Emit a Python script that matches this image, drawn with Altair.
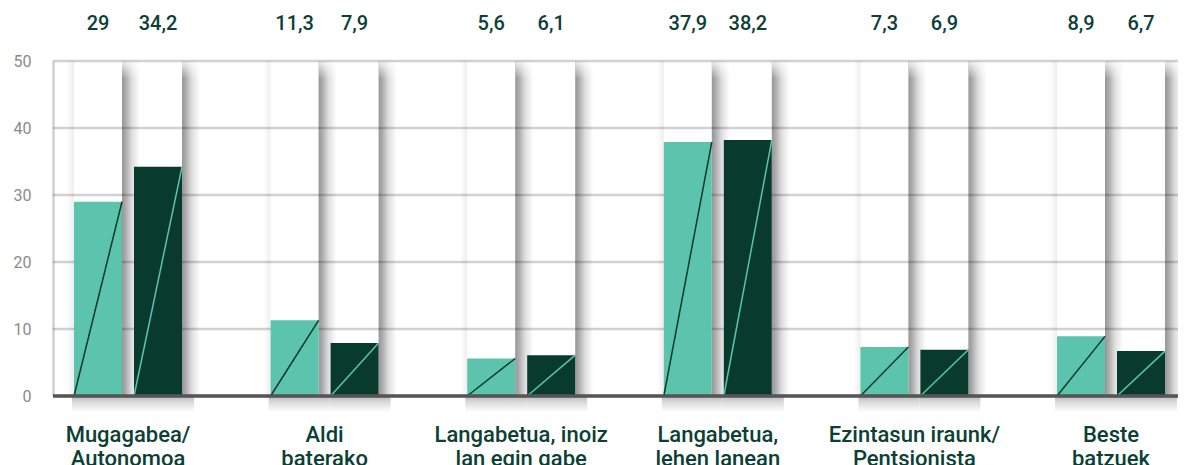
import altair as alt
import pandas as pd

# ---- data ----
categories = [
    ["Mugagabea/", "Autonomoa"],
    ["Aldi", "baterako"],
    ["Langabetua, inoiz", "lan egin gabe"],
    ["Langabetua,", "lehen lanean"],
    ["Ezintasun iraunk/", "Pentsionista"],
    ["Beste", "batzuek"],
]
series_a = [29, 11.3, 5.6, 37.9, 7.3, 8.9]
series_b = [34.2, 7.9, 6.1, 38.2, 6.9, 6.7]
y_ticks = [0, 10, 20, 30, 40, 50]
grid_values = [10, 20, 30, 40, 50]

# ---- style / layout ----
LIGHT = "#5cc4ac"
DARK = "#083a2e"
TEXT = "#0c4034"
FONT = "Roboto"
W, H = 1125, 335
PX = 196.6          # pixels per group
FIRST = 75.0        # first group centre from plot left (px)
X_DOMAIN = [-FIRST / PX, (W - FIRST) / PX]


def u(px):
    return px / PX


def fmt(v):
    return f"{v:g}".replace(".", ",")


rows = []
for i, cat in enumerate(categories):
    for s, vals, a, b, fill, line in (("A", series_a, -54, -6, LIGHT, DARK),
                                      ("B", series_b, 6, 54, DARK, LIGHT)):
        v = vals[i]
        rows.append(dict(
            g=i, series=s, value=v, zero=0, top=50, label=fmt(v), fill=fill, line=line,
            x0=i + u(a), x1=i + u(b), xm=i + u((a + b) / 2),
            sx1=i + u(b + 18),
            bx0=i + (u(a - 2) if s == "A" else u(5)),
            bx1=i + (u(5) if s == "A" else u(b + 12)),
            lx0=i + u(a - 7), lx1=i + u(a),
        ))
bars = pd.DataFrame(rows)

cats = pd.DataFrame({"g": list(range(len(categories))), "name": categories})
grid = pd.DataFrame({"v": grid_values})

xs = alt.Scale(domain=X_DOMAIN, nice=False, zero=False)
ys = alt.Scale(domain=[0, 50], nice=False, zero=False)
yaxis = alt.Axis(values=y_ticks, title=None, grid=False, ticks=False,
                 labelColor="#8a8a8a", labelFontSize=16, labelFont=FONT,
                 labelPadding=22, domainColor="#d0d0d0", domainWidth=2.5)


def X(f):
    return alt.X(f"{f}:Q", scale=xs, axis=None)


def Y(f):
    return alt.Y(f"{f}:Q", scale=ys, axis=yaxis)


base = alt.Chart(bars)

left_shadow = base.transform_filter("datum.series == 'A'").mark_rect(
    fill=alt.Gradient(gradient="linear", x1=0, x2=1, y1=0, y2=0,
                      stops=[alt.GradientStop(offset=0, color="#ffffff"),
                             alt.GradientStop(offset=1, color="#eeeeee")])
).encode(x=X("lx0"), x2="lx1", y=Y("zero"), y2=alt.Y2(datum=50))

right_shadow = base.mark_rect(
    fill=alt.Gradient(gradient="linear", x1=0, x2=1, y1=0, y2=0,
                      stops=[alt.GradientStop(offset=0, color="#969696"),
                             alt.GradientStop(offset=0.2, color="#ababab"),
                             alt.GradientStop(offset=0.55, color="#dedede"),
                             alt.GradientStop(offset=1, color="#ffffff")])
).encode(x=X("x1"), x2="sx1", y=Y("zero"), y2=alt.Y2(datum=50))

top_fade = base.mark_rect(
    fill=alt.Gradient(gradient="linear", x1=0, x2=0, y1=0, y2=1,
                      stops=[alt.GradientStop(offset=0, color="rgba(255,255,255,0.85)"),
                             alt.GradientStop(offset=1, color="rgba(255,255,255,0)")])
).encode(x=X("x1"), x2="sx1", y=Y("top"), y2=alt.Y2(datum=47.4))

below_shadow = base.mark_rect(
    fill=alt.Gradient(gradient="linear", x1=0, x2=0, y1=0, y2=1,
                      stops=[alt.GradientStop(offset=0, color="#b8b8b8"),
                             alt.GradientStop(offset=0.4, color="#dcdcdc"),
                             alt.GradientStop(offset=1, color="#ffffff")])
).encode(x=X("bx0"), x2="bx1", y=Y("zero"), y2=alt.Y2(datum=-2.4))

gridlines = alt.Chart(grid).mark_rule(color="#000000", opacity=0.18, strokeWidth=2.5).encode(
    y=Y("v"))

bar_layer = base.mark_rect().encode(
    x=X("x0"), x2="x1", y=Y("value"), y2="zero",
    color=alt.Color("fill:N", scale=None),
)

diag = base.mark_rule(strokeWidth=1.5).encode(
    x=X("x0"), x2="x1", y=Y("zero"), y2="value",
    color=alt.Color("line:N", scale=None),
)

baseline = alt.Chart(grid).mark_rule(color="#555555", strokeWidth=2.5).encode(
    y=alt.Y(datum=0, scale=ys, axis=yaxis))

values = base.mark_text(font=FONT, fontSize=20, fontWeight=500, color=TEXT, baseline="middle").encode(
    x=X("xm"), y=alt.value(-37), text="label:N")

labels = alt.Chart(cats).mark_text(font=FONT, fontSize=22, fontWeight=500, color=TEXT,
                                   baseline="alphabetic", align="center", lineHeight=24).encode(
    x=X("g"), y=alt.value(380.5), text="name")

chart = alt.layer(left_shadow, right_shadow, top_fade, below_shadow, gridlines, bar_layer, diag,
                  baseline, values, labels).properties(
    width=W, height=H,
    autosize=alt.AutoSizeParams(type="none"),
    padding={"left": 45, "top": 53, "right": 0, "bottom": 69},
    background="#ffffff",
).configure_view(stroke=None)

chart.save("out.html", embed_options={"renderer": "svg", "actions": False})
